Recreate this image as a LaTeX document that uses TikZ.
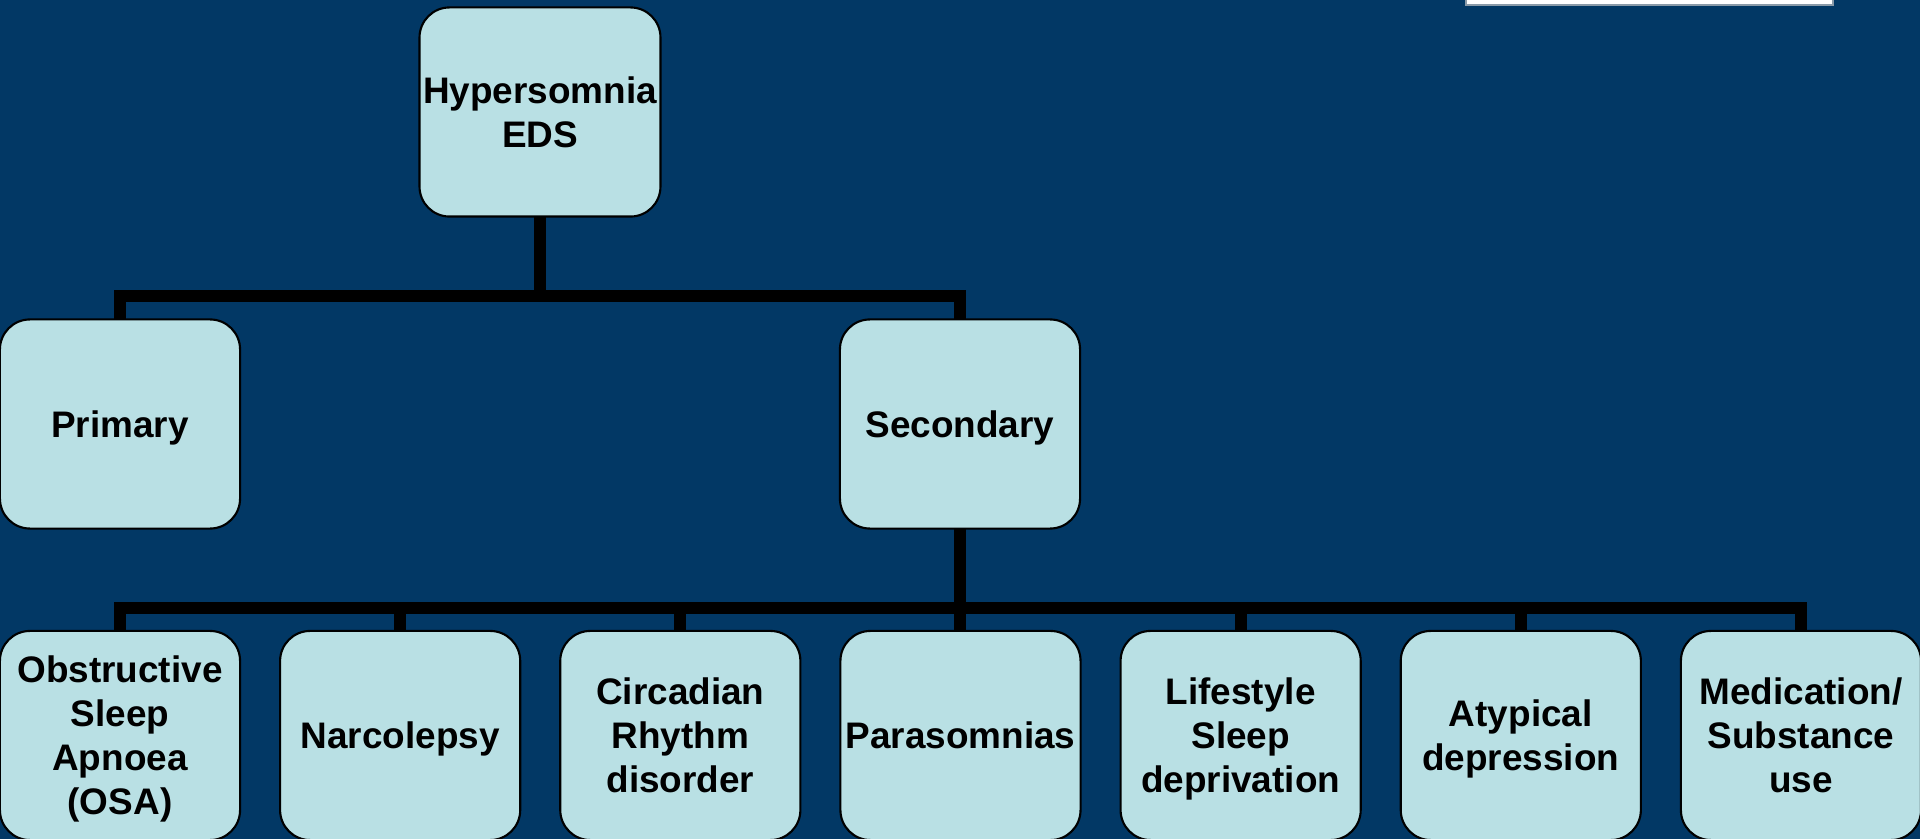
\documentclass[tikz,border=0pt]{standalone}
\usepackage{fontspec}
\setmainfont{Liberation Sans}
\usetikzlibrary{positioning}
\definecolor{navy}{HTML}{023865}
\definecolor{paleteal}{HTML}{B9E0E4}
\definecolor{edgegray}{HTML}{8A9AA8}

\begin{document}
\begin{tikzpicture}[
    x=0.01cm, y=0.01cm,
    box/.style={draw=black, line width=0.6pt, outer sep=0pt, rounded corners=0.3cm, fill=paleteal, minimum width=2.4cm, minimum height=2.09cm, inner sep=1pt, text depth=0pt, align=center, font=\fontsize{10.5}{12.5}\selectfont\bfseries},
    link/.style={line width=0.12cm, draw=black}
]

\fill[navy] (0,0) rectangle (1920,839);
\useasboundingbox (0,0) rectangle (1920,839);
\filldraw[fill=white, draw=edgegray, line width=0.5pt] (1466,834) rectangle (1833,850);

\node[box] (hyp) at (540, 727) {Hypersomnia\\EDS};

\node[box] (prim) at (120, 415) {Primary};
\node[box] (sec) at (960, 415) {Secondary};

\node[box] (osa) at (120, 103.5) {Obstructive\\Sleep\\Apnoea\\(OSA)};
\node[box, right=0.4cm of osa] (narco) {Narcolepsy};
\node[box, right=0.4cm of narco] (circ) {Circadian\\Rhythm\\disorder};
\node[box, right=0.4cm of circ] (para) {Parasomnias};
\node[box, right=0.4cm of para] (life) {Lifestyle\\Sleep\\deprivation};
\node[box, right=0.4cm of life] (atyp) {Atypical\\depression};
\node[box, right=0.4cm of atyp] (med) {Medication/\\Substance\\use};

\coordinate (busA) at (540, 543);
\coordinate (busB) at (960, 231);

\draw[link] (hyp.south) -- (busA);
\draw[link] (prim.north) |- (busA) -| (sec.north);

\draw[link] (sec.south) -- (busB);
\draw[link] (osa.north) |- (busB) -| (med.north);
\draw[link] (narco.north) -- (narco.north |- busB);
\draw[link] (circ.north) -- (circ.north |- busB);
\draw[link] (para.north) -- (para.north |- busB);
\draw[link] (life.north) -- (life.north |- busB);
\draw[link] (atyp.north) -- (atyp.north |- busB);

\end{tikzpicture}
\end{document}
